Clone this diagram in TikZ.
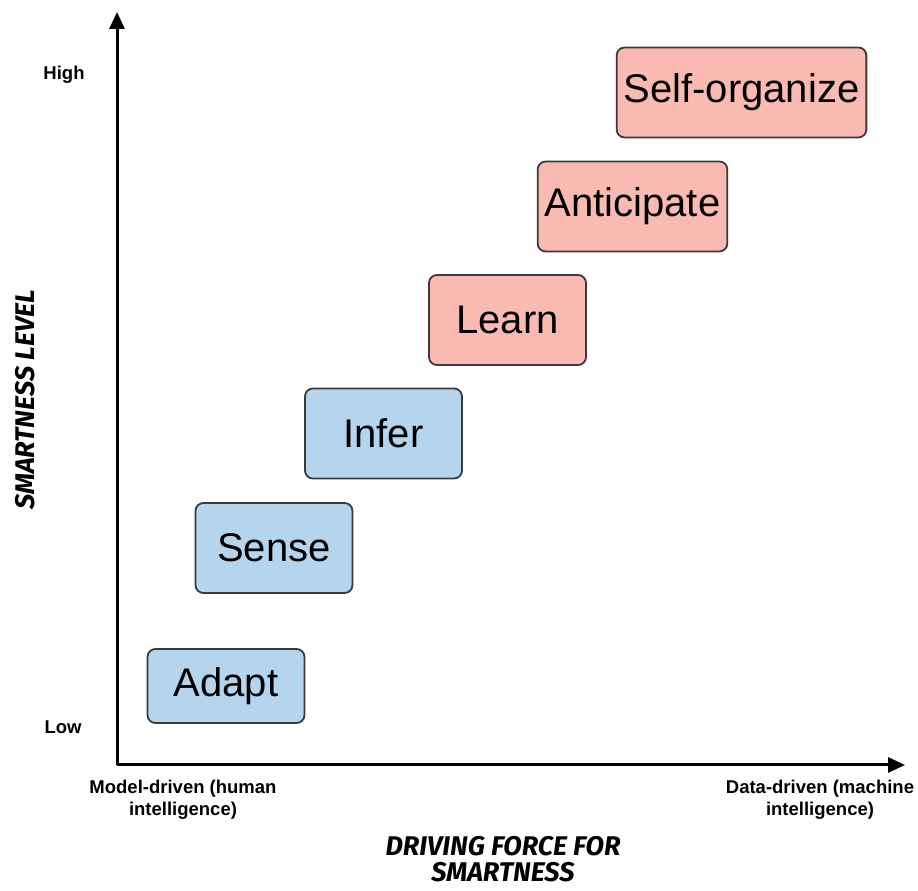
\documentclass[tikz,border=0pt]{standalone}
\usepackage{fontspec}
\setmainfont{Liberation Sans}
\newfontfamily\handfont{Fira Sans}
\usetikzlibrary{arrows.meta, positioning}
\definecolor{lowblue}{HTML}{B5D5EF}
\definecolor{highpink}{HTML}{F9BAB2}
\definecolor{boxline}{HTML}{3A3A3A}

\begin{document}
\begin{tikzpicture}[x=1pt, y=1pt,
    level/.style={draw=boxline, line width=1.8pt, rounded corners=8pt,
        minimum width=157pt, minimum height=90pt, inner xsep=7pt,
        font=\fontsize{40}{44}\selectfont},
    low/.style={level, fill=lowblue},
    high/.style={level, fill=highpink},
    tick/.style={font=\fontsize{18.5}{22}\selectfont\bfseries, align=center},
    axis/.style={font=\handfont\fontsize{27}{26}\selectfont\bfseries\itshape, align=center}]
    \useasboundingbox (0,0) rectangle (918,891);

    % axes
    \coordinate (o) at (117,126);
    \coordinate (ytop) at (117,879);
    \coordinate (xend) at (905,126);
    \draw [line width=3pt, -{Triangle[length=17pt, width=15pt]}] (o) -- (ytop);
    \draw [line width=3pt, -{Triangle[length=17pt, width=15pt]}] (o) -- (xend);

    % smartness levels
    \node (adapt) [low, minimum height=74pt] at (226,205) {Adapt};
    \node (sense) [low] at (274,343) {Sense};
    \node (infer) [low] at (383.5,457.5) {Infer};
    \node (learn) [high] at (507.5,571) {Learn};
    \node (anticipate) [high] at (632.5,684.5) {Anticipate};
    \node (selforg) [high] at (741.5,798.5) {Self-organize};

    % labels
    \node (hi) [tick] at (64,816) {High};
    \node (lo) [tick] at (63,164) {Low};
    \node (model) [tick] at (183,91) {Model-driven (human\\intelligence)};
    \node (data) [tick] at (820,91) {Data-driven (machine\\intelligence)};
    \node (xlabel) [axis] at (503,32) {DRIVING FORCE FOR\\SMARTNESS};
    \node (ylabel) [axis, rotate=90] at (25,491) {SMARTNESS LEVEL};
\end{tikzpicture}
\end{document}
